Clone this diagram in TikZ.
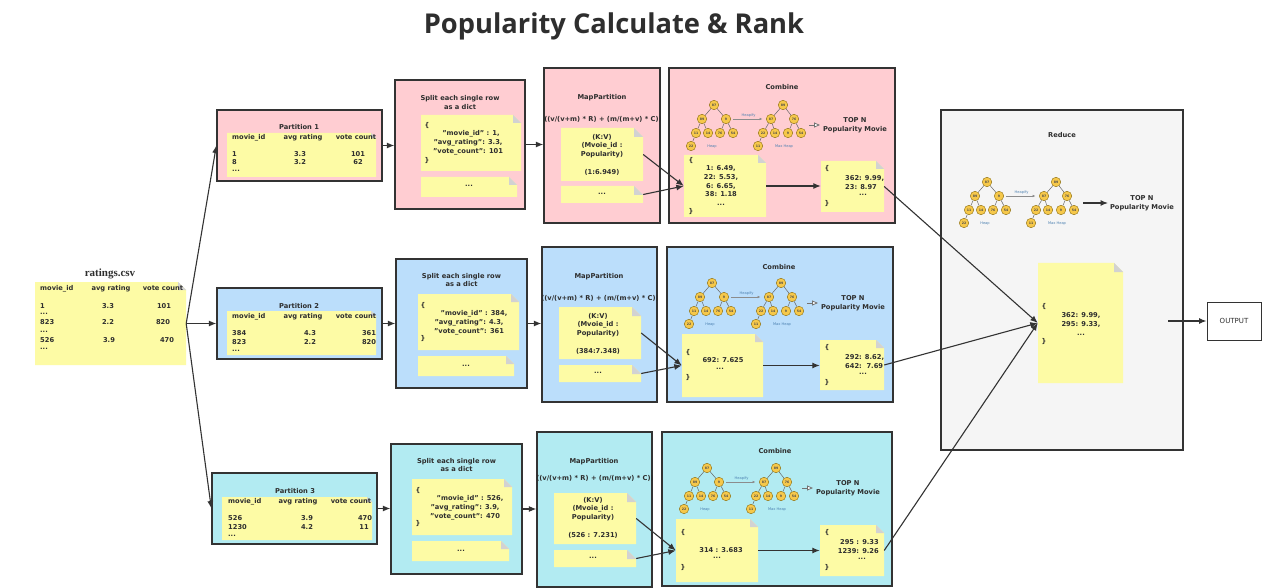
\documentclass[tikz,border=0pt]{standalone}
\usepackage{fontspec}
\setmainfont{DejaVu Sans}
\newfontfamily\titlefont{Open Sans}
\newfontfamily\csvfont{Liberation Serif}
\usetikzlibrary{arrows.meta,fit}
\definecolor{pinkc}{HTML}{FFCDD2}
\definecolor{bluec}{HTML}{BBDEFB}
\definecolor{cyanc}{HTML}{B2EBF2}
\definecolor{greyc}{HTML}{F5F5F5}
\definecolor{notec}{HTML}{FDFBA5}
\definecolor{foldc}{HTML}{D2D2D2}
\definecolor{linec}{HTML}{333333}
\definecolor{textc}{HTML}{2E2E2E}
\definecolor{heapc}{HTML}{F6C84A}
\definecolor{heapd}{HTML}{8A6D10}
\definecolor{heapt}{HTML}{4A7FB0}

\newcommand{\stnote}[6][8]{%
  \fill[notec] (#3,#4) -- ({#5-#1},#4) -- (#5,{#4+#1}) -- (#5,#6) -- (#3,#6) -- cycle;
  \fill[foldc] ({#5-#1},#4) -- (#5,{#4+#1}) -- ({#5-#1},{#4+#1}) -- cycle;
  \node[fit={(#3,#4)(#5,#6)}, inner sep=0pt] (#2) {};
}

\newcommand{\heappair}[3]{%
  \begin{scope}[shift={(#1,#2)}]
    \node[hn] (#3a) at (0,0) {87};
    \node[hn] (#3b) at (-12,14) {89};
    \node[hn] (#3c) at (12,14) {9};
    \node[hn] (#3d) at (-18,28) {11};
    \node[hn] (#3e) at (-6,28) {14};
    \node[hn] (#3f) at (6,28) {76};
    \node[hn] (#3g) at (19,28) {54};
    \node[hn] (#3h) at (-23,41) {22};
    \node[hn] (#3A) at (69,0) {89};
    \node[hn] (#3B) at (57,14) {87};
    \node[hn] (#3C) at (80,14) {76};
    \node[hn] (#3D) at (49,28) {22};
    \node[hn] (#3E) at (61,28) {14};
    \node[hn] (#3F) at (74,28) {9};
    \node[hn] (#3G) at (87,28) {54};
    \node[hn] (#3H) at (44,41) {11};
    \draw[hedge] (#3a)--(#3b) (#3a)--(#3c) (#3b)--(#3d) (#3b)--(#3e)
                 (#3c)--(#3f) (#3c)--(#3g) (#3d)--(#3h);
    \draw[hedge] (#3A)--(#3B) (#3A)--(#3C) (#3B)--(#3D) (#3B)--(#3E)
                 (#3C)--(#3F) (#3C)--(#3G) (#3D)--(#3H);
    \node[hlab] (#3l1) at (-2,42) {Heap};
    \node[hlab] (#3l2) at (70,42) {Max Heap};
    \draw[harrow] (#3c.east) -- node[hlab, above=1pt] (#3l3) {Heapify} (#3B.west);
  \end{scope}
}

\newcommand{\topn}[3]{%
  \coordinate (#3o1) at ({#1+95},{#2+20});
  \coordinate (#3o2) at ({#1+106},{#2+20});
  \draw[openarr] (#3o1) -- (#3o2);
  \node[ctxt] (#3top) at ({#1+141},{#2+20.5}) {TOP N\\Popularity Movie};
}

\begin{document}
\begin{tikzpicture}[x=1pt,y=-1pt,
  cbox/.style={draw=linec, line width=1.3pt, inner sep=0pt},
  txt/.style={font=\bfseries\fontsize{6.7}{8.8}\selectfont, text=textc, inner sep=0pt, text height=5pt, text depth=1.6pt},
  ctxt/.style={font=\bfseries\fontsize{6.7}{8.8}\selectfont, text=textc, inner sep=0pt, align=center},
  conn/.style={draw=linec, line width=1.1pt, -{Latex[length=7.5pt,width=6pt]}},
  hn/.style={circle, draw=heapd, fill=heapc, line width=0.4pt, minimum size=9.5pt, inner sep=0pt, font=\bfseries\fontsize{3.2}{3.2}\selectfont, text=black!70},
  hedge/.style={draw=black!60, line width=0.5pt},
  hlab/.style={font=\fontsize{3.6}{4}\selectfont, text=heapt, inner sep=0pt},
  harrow/.style={draw=black!45, line width=0.8pt, shorten <=2pt, shorten >=3.5pt, -{Latex[length=3pt,width=2.6pt]}},
  openarr/.style={draw=black!55, line width=0.8pt, -{Triangle[length=6pt,width=5pt,fill=white]}},
  outbox/.style={draw=linec, line width=1pt, inner sep=0pt, font=\fontsize{7}{8}\selectfont, text=textc},
]
\useasboundingbox (0,0) rectangle (1280,588);
\fill[white] (0,0) rectangle (1280,588);

% title
\node[anchor=base, font=\titlefont\bfseries\fontsize{27.3}{30}\selectfont, text=textc, inner sep=0pt] (title) at (614,34) {Popularity Calculate \& Rank};

% containers
\node[cbox, fill=pinkc, fit={(217,110)(382,181)}] (p1) {};
\node[cbox, fill=pinkc, fit={(395,80)(525,209)}] (s1) {};
\node[cbox, fill=pinkc, fit={(544,68)(660,223)}] (m1) {};
\node[cbox, fill=pinkc, fit={(669,68)(895,223)}] (c1) {};
\node[cbox, fill=bluec, fit={(217,288)(382,359)}] (p2) {};
\node[cbox, fill=bluec, fit={(396,259)(527,388)}] (s2) {};
\node[cbox, fill=bluec, fit={(542,247)(657,402)}] (m2) {};
\node[cbox, fill=bluec, fit={(667,247)(893,402)}] (c2) {};
\node[cbox, fill=cyanc, fit={(212,473)(377,544)}] (p3) {};
\node[cbox, fill=cyanc, fit={(391,444)(522,574)}] (s3) {};
\node[cbox, fill=cyanc, fit={(537,432)(652,587)}] (m3) {};
\node[cbox, fill=cyanc, fit={(662,432)(892,586)}] (c3) {};
\node[cbox, fill=greyc, fit={(941,110)(1183,450)}] (rd) {};
\node[outbox, fit={(1207,302)(1261,340)}] (out) {};
\node[outbox, draw=none] (outt) at (out.center) {OUTPUT};

% notes
\stnote{rat}{35}{282}{186}{365}
\stnote[5]{p1n}{227}{133}{376}{177}
\stnote[5]{p2n}{227}{311}{376}{355}
\stnote[5]{p3n}{222}{497}{372}{540}
\stnote{s1a}{421}{115}{521}{171}
\stnote{s1b}{421}{177}{517}{197}
\stnote{s2a}{418}{294}{519}{350}
\stnote{s2b}{418}{356}{514}{376}
\stnote{s3a}{412}{479}{512}{535}
\stnote{s3b}{412}{541}{509}{561}
\stnote[9]{m1kv}{561}{128}{643}{181}
\stnote[9]{m1d}{561}{186}{643}{203}
\stnote[9]{m2kv}{559}{307}{641}{359}
\stnote[9]{m2d}{559}{365}{641}{382}
\stnote[9]{m3kv}{554}{493}{636}{544}
\stnote[9]{m3d}{554}{550}{636}{567}
\stnote{c1a}{684}{155}{766}{217}
\stnote{c1b}{821}{161}{884}{212}
\stnote{c2a}{682}{334}{763}{397}
\stnote{c2b}{820}{340}{884}{390}
\stnote{c3a}{676}{519}{758}{582}
\stnote{c3b}{820}{525}{884}{576}
\stnote[9]{rn}{1038}{263}{1123}{383}

% ratings.csv
\node[font=\csvfont\bfseries\fontsize{11}{12}\selectfont, text=textc, inner sep=0pt] (rtitle) at (110,274) {ratings.csv};
\node[txt, anchor=west] (rh1) at (40,289) {movie\_id};
\node[txt] (rh2) at (111,289) {avg rating};
\node[txt] (rh3) at (163,289) {vote count};
\node[txt, anchor=west] (ra1) at (40,307) {1};
\node[txt] (ra2) at (108,307) {3.3};
\node[txt] (ra3) at (164,307) {101};
\node[txt, anchor=west] (ra4) at (40,313) {...};
\node[txt, anchor=west] (rb1) at (40,323) {823};
\node[txt] (rb2) at (108,323) {2.2};
\node[txt] (rb3) at (163,323) {820};
\node[txt, anchor=west] (rb4) at (40,331) {...};
\node[txt, anchor=west] (rc1) at (40,341) {526};
\node[txt] (rc2) at (109,341) {3.9};
\node[txt] (rc3) at (167,341) {470};
\node[txt, anchor=west] (rc4) at (40,348) {...};

% partition 1
\node[txt] (p1t) at (299,128) {Partition 1};
\node[txt, anchor=west] (p1h1) at (232,138) {movie\_id};
\node[txt] (p1h2) at (303,138) {avg rating};
\node[txt] (p1h3) at (356,138) {vote count};
\node[txt, anchor=west] (p1a1) at (232,155) {1};
\node[txt] (p1a2) at (300,155) {3.3};
\node[txt] (p1a3) at (358,155) {101};
\node[txt, anchor=west] (p1b1) at (232,163) {8};
\node[txt] (p1b2) at (300,163) {3.2};
\node[txt] (p1b3) at (358,163) {62};
\node[txt, anchor=west] (p1c) at (232,170) {...};
% partition 2
\node[txt] (p2t) at (299,307) {Partition 2};
\node[txt, anchor=west] (p2h1) at (232,317) {movie\_id};
\node[txt] (p2h2) at (303,317) {avg rating};
\node[txt] (p2h3) at (356,317) {vote count};
\node[txt, anchor=west] (p2a1) at (232,334) {384};
\node[txt] (p2a2) at (310,334) {4.3};
\node[txt] (p2a3) at (369,334) {361};
\node[txt, anchor=west] (p2b1) at (232,343) {823};
\node[txt] (p2b2) at (310,343) {2.2};
\node[txt] (p2b3) at (369,343) {820};
\node[txt, anchor=west] (p2c) at (232,350) {...};
% partition 3
\node[txt] (p3t) at (295,492) {Partition 3};
\node[txt, anchor=west] (p3h1) at (228,502) {movie\_id};
\node[txt] (p3h2) at (298,502) {avg rating};
\node[txt] (p3h3) at (351,502) {vote count};
\node[txt, anchor=west] (p3a1) at (228,519) {526};
\node[txt] (p3a2) at (307,519) {3.9};
\node[txt] (p3a3) at (365,519) {470};
\node[txt, anchor=west] (p3b1) at (228,528) {1230};
\node[txt] (p3b2) at (307,528) {4.2};
\node[txt] (p3b3) at (364,528) {11};
\node[txt, anchor=west] (p3c) at (228,535) {...};

% split boxes
\node[ctxt] (s1t) at (460,102.5) {Split each single row\\as a dict};
\node[txt] (s1o) at (427,126) {\{};
\node[ctxt] (s1x) at (468,143) {\hspace*{6pt}"movie\_id" : 1,\\"avg\_rating": 3.3,\\"vote\_count": 101};
\node[txt] (s1c) at (427,161) {\}};
\node[txt] (s1d) at (469,185) {...};
\node[ctxt] (s2t) at (461.5,280) {Split each single row\\as a dict};
\node[txt] (s2o) at (423,306) {\{};
\node[ctxt] (s2x) at (469,322.5) {\hspace*{10pt}"movie\_id" : 384,\\"avg\_rating": 4.3,\\"vote\_count": 361};
\node[txt] (s2c) at (423,339) {\}};
\node[txt] (s2d) at (466,365) {...};
\node[ctxt] (s3t) at (456.5,465) {Split each single row\\as a dict};
\node[txt] (s3o) at (418,491) {\{};
\node[ctxt] (s3x) at (465,507.5) {\hspace*{10pt}"movie\_id" : 526,\\"avg\_rating": 3.9,\\"vote\_count": 470};
\node[txt] (s3c) at (418,524) {\}};
\node[txt] (s3d) at (461,550) {...};

% map partitions
\node[txt] (m1t) at (602,98) {MapPartition};
\node[txt] (m1f) at (603,120) {((v/(v+m) * R) + (m/(m+v) * C))};
\node[ctxt] (m1x) at (602,154.6) {(K:V)\\(Mvoie\_id :\\Popularity)\\\mbox{}\\(1:6.949)};
\node[txt] (m1y) at (602,193) {...};
\node[txt] (m2t) at (599,277) {MapPartition};
\node[txt] (m2f) at (600,299) {((v/(v+m) * R) + (m/(m+v) * C))};
\node[ctxt] (m2x) at (598,333.6) {(K:V)\\(Mvoie\_id :\\Popularity)\\\mbox{}\\(384:7.348)};
\node[txt] (m2y) at (598,372) {...};
\node[txt] (m3t) at (594,462) {MapPartition};
\node[txt] (m3f) at (595,479) {((v/(v+m) * R) + (m/(m+v) * C))};
\node[ctxt] (m3x) at (593,517.6) {(K:V)\\(Mvoie\_id :\\Popularity)\\\mbox{}\\(526 : 7.231)};
\node[txt] (m3y) at (593,557) {...};

% combine 1
\node[txt] (c1t) at (782,88) {Combine};
\heappair{714}{105}{ha}
\topn{714}{105}{ta}
\node[txt] (c1ao) at (691,161) {\{};
\node[ctxt] (c1ax) at (721,185.6) {1: 6.49,\\22: 5.53,\\6: 6.65,\\38: 1.18\\...};
\node[txt] (c1ac) at (691,212) {\}};
\node[txt] (c1bo) at (827,169) {\{};
\node[ctxt, align=left, anchor=west] (c1bx) at (845,182.5) {362: 9.99,\\23: 8.97};
\node[txt] (c1bd) at (863,194) {...};
\node[txt] (c1bc) at (827,204) {\}};

% combine 2
\node[txt] (c2t) at (779,268) {Combine};
\heappair{712}{283}{hb}
\topn{712}{283}{tb}
\node[txt] (c2ao) at (688,353) {\{};
\node[txt] (c2ax) at (723,361) {692: 7.625};
\node[txt] (c2ad) at (720,368) {...};
\node[txt] (c2ac) at (688,378) {\}};
\node[txt] (c2bo) at (827,348) {\{};
\node[ctxt, align=left, anchor=west] (c2bx) at (845,361.5) {292: 8.62,\\642:\ \ 7.69};
\node[txt] (c2bd) at (863,373) {...};
\node[txt] (c2bc) at (827,383) {\}};

% combine 3
\node[txt] (c3t) at (775,452) {Combine};
\heappair{707}{468}{hc}
\topn{707}{468}{tc}
\node[txt] (c3ao) at (683,533) {\{};
\node[txt] (c3ax) at (721,551) {314 : 3.683};
\node[txt] (c3ad) at (717,557) {...};
\node[txt] (c3ac) at (683,568) {\}};
\node[txt] (c3bo) at (827,533) {\{};
\node[ctxt, align=right, anchor=east] (c3bx) at (879,546.5) {295 : 9.33\\1239: 9.26};
\node[txt] (c3bd) at (862,558) {...};
\node[txt] (c3bc) at (827,568) {\}};

% reduce
\node[txt] (rdt) at (1062,136) {Reduce};
\heappair{987}{182}{hr}
\coordinate (rda1) at (1083,203);
\coordinate (rda2) at (1108,203);
\node[ctxt] (rdtop) at (1142,203.5) {TOP N\\Popularity Movie};
\node[txt] (rno) at (1044,307) {\{};
\node[ctxt] (rnx) at (1081,323.8) {362: 9.99,\\295: 9.33,\\...};
\node[txt] (rnc) at (1044,342) {\}};
\coordinate (rdo) at (1168,321);

% connectors
\draw[conn] (rat.east) -- (p1.west);
\draw[conn] (rat.east) -- (p2.west);
\draw[conn] (rat.east) -- (p3.west);
\draw[conn] (p1.east) -- (p1.east -| s1.west);
\draw[conn] (s1.east) -- (s1.east -| m1.west);
\draw[conn] (p2.east) -- (p2.east -| s2.west);
\draw[conn] (s2.east) -- (s2.east -| m2.west);
\draw[conn] (p3.east) -- (p3.east -| s3.west);
\draw[conn] (s3.east) -- (s3.east -| m3.west);
\draw[conn] (m1kv.east) -- (c1a.west);
\draw[conn] (m1d.east) -- (c1a.west);
\draw[conn] (m2kv.east) -- (c2a.west);
\draw[conn] (m2d.east) -- (c2a.west);
\draw[conn] (m3kv.east) -- (c3a.west);
\draw[conn] (m3d.east) -- (c3a.west);
\draw[conn] (c1a.east) -- (c1a.east -| c1b.west);
\draw[conn] (c2a.east) -- (c2a.east -| c2b.west);
\draw[conn] (c3a.east) -- (c3a.east -| c3b.west);
\draw[conn] (c1b.east) -- (rn.west);
\draw[conn] (c2b.east) -- (rn.west);
\draw[conn] (c3b.east) -- (rn.west);
\draw[conn] (rda1) -- (rda2);
\draw[conn] (rdo) -- (out.west);
\end{tikzpicture}
\end{document}
